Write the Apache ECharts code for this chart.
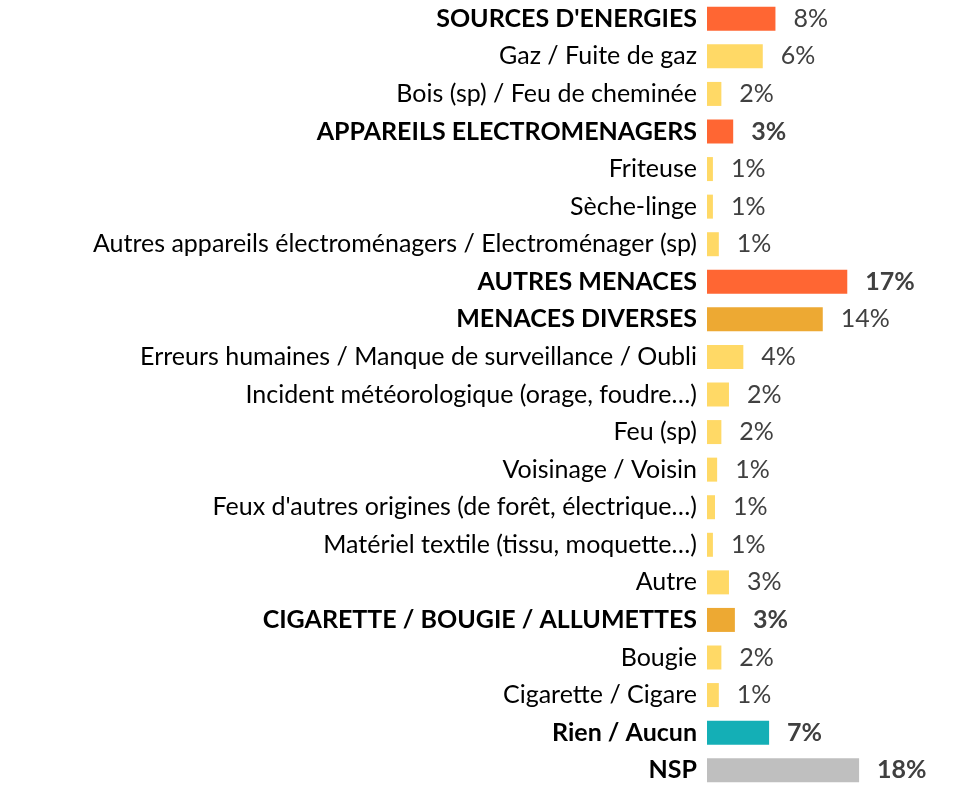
<!DOCTYPE html>
<html>
<head>
<meta charset="utf-8">
<script src="https://cdn.jsdelivr.net/npm/echarts@6/dist/echarts.min.js"></script>
<style>
  html, body { margin: 0; padding: 0; background: #fff; }
  #chart { width: 953px; height: 789px; }
</style>
</head>
<body>
<div id="chart"></div>
<script>
// categories, top to bottom
var categories = [
  "SOURCES D'ENERGIES",
  "Gaz / Fuite de gaz",
  "Bois (sp) / Feu de cheminée",
  "APPAREILS ELECTROMENAGERS",
  "Friteuse",
  "Sèche-linge",
  "Autres appareils électroménagers / Electroménager (sp)",
  "AUTRES MENACES",
  "MENACES DIVERSES",
  "Erreurs humaines / Manque de surveillance / Oubli",
  "Incident météorologique (orage, foudre…)",
  "Feu (sp)",
  "Voisinage / Voisin",
  "Feux d'autres origines (de forêt, électrique…)",
  "Matériel textile (tissu, moquette…)",
  "Autre",
  "CIGARETTE / BOUGIE / ALLUMETTES",
  "Bougie",
  "Cigarette / Cigare",
  "Rien / Aucun",
  "NSP"
];
// bar lengths (%)
var values = [8.1, 6.6, 1.7, 3.1, 0.7, 0.7, 1.4, 16.6, 13.7, 4.3, 2.6, 1.7, 1.2, 0.95, 0.7, 2.6, 3.3, 1.7, 1.4, 7.35, 18.0];
// printed labels
var valueLabels = ["8%", "6%", "2%", "3%", "1%", "1%", "1%", "17%", "14%", "4%", "2%", "2%", "1%", "1%", "1%", "3%", "3%", "2%", "1%", "7%", "18%"];
// hierarchy: 1 = main theme, 2 = sub theme, 3 = detail, 0 = other answers
var levels = [1, 3, 3, 1, 3, 3, 3, 1, 2, 3, 3, 3, 3, 3, 3, 3, 2, 3, 3, 0, 0];

var boldValueRows = [3, 7, 16, 19, 20];
var levelColors = { 1: '#FF6633', 2: '#EDA933', 3: '#FFD966' };
var otherColors = { 'Rien / Aucun': '#14AFB6', 'NSP': '#BFBFBF' };
var FONT = 'Lato';
var FS = 25;

var chart = echarts.init(document.getElementById('chart'), null, { renderer: 'canvas' });

var seriesData = values.map(function (v, i) {
  var col = levels[i] === 0 ? otherColors[categories[i]] : levelColors[levels[i]];
  return { value: v, itemStyle: { color: col } };
});

chart.setOption({
  animation: false,
  grid: { left: 707, right: 77, top: -2, height: 797, containLabel: false },
  xAxis: {
    type: 'value', min: 0, max: 20,
    show: false
  },
  yAxis: {
    type: 'category',
    inverse: true,
    data: categories,
    axisLine: { show: false },
    axisTick: { show: false },
    splitLine: { show: false },
    axisLabel: {
      margin: 10,
      formatter: function (val) {
        var i = categories.indexOf(val);
        return (levels[i] === 3 ? '{n|' : '{b|') + val + '}';
      },
      rich: {
        n: { fontFamily: FONT, fontSize: FS, color: '#000' },
        b: { fontFamily: FONT, fontSize: FS, fontWeight: 'bold', color: '#000' }
      }
    }
  },
  series: [{
    type: 'bar',
    data: seriesData,
    barWidth: 24,
    label: {
      show: true,
      position: 'right',
      distance: 18,
      formatter: function (p) {
        var tag = boldValueRows.indexOf(p.dataIndex) >= 0 ? 'b' : 'n';
        return '{' + tag + '|' + valueLabels[p.dataIndex] + '}';
      },
      rich: {
        n: { fontFamily: FONT, fontSize: FS, color: '#404040' },
        b: { fontFamily: FONT, fontSize: FS, fontWeight: 'bold', color: '#404040' }
      }
    }
  }]
});
</script>
</body>
</html>
